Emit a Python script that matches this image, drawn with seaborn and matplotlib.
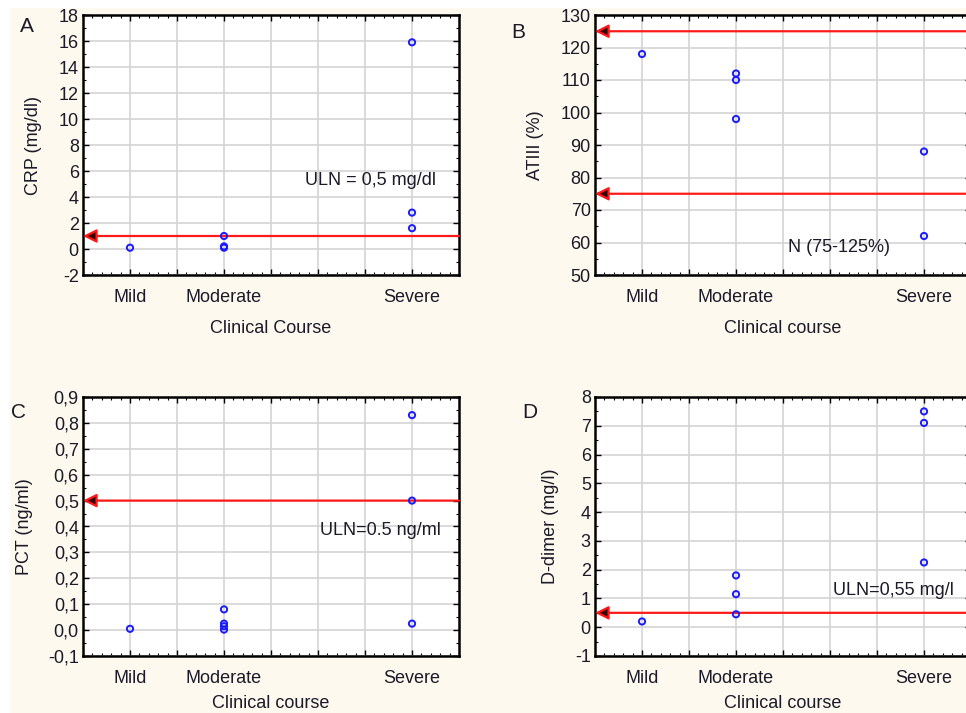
import numpy as np
import pandas as pd
import matplotlib
matplotlib.use('Agg')
import matplotlib.pyplot as plt
from matplotlib.ticker import MultipleLocator, FixedLocator
import seaborn as sns

# categories and their place on the x axis (Statistica style, 0..8)
courses = ['Mild', 'Moderate', 'Severe']
course_pos = {'Mild': 1, 'Moderate': 3, 'Severe': 7}

# A - CRP
crp_course = ['Mild', 'Moderate', 'Moderate', 'Moderate', 'Severe', 'Severe', 'Severe']
crp_value = [0.1, 1.0, 0.2, 0.1, 15.9, 2.8, 1.6]

# B - ATIII
at_course = ['Mild', 'Moderate', 'Moderate', 'Moderate', 'Severe', 'Severe']
at_value = [118, 112, 110, 98, 88, 62]

# C - PCT
pct_course = ['Mild', 'Moderate', 'Moderate', 'Moderate', 'Moderate', 'Severe', 'Severe', 'Severe']
pct_value = [0.005, 0.08, 0.025, 0.015, 0.002, 0.83, 0.5, 0.025]

# D - D-dimer
dd_course = ['Mild', 'Moderate', 'Moderate', 'Moderate', 'Severe', 'Severe', 'Severe']
dd_value = [0.2, 1.8, 1.15, 0.45, 7.5, 7.1, 2.25]

# reference lines (y values)
crp_uln = [1.0]
at_ref = [125, 75]
pct_uln = [0.5]
dd_uln = [0.5]

BG = '#fef9ee'
TXT = '#1a1a28'
FS = 13

sns.set_theme(style='white')
plt.rcParams['font.family'] = ['Liberation Sans', 'DejaVu Sans']

fig = plt.figure(figsize=(9.66, 7.13), dpi=100, facecolor=BG)
# thin white strips at the top and left edges of the scan
fig.patches.append(plt.Rectangle((0, 0.99), 1, 0.01, transform=fig.transFigure,
                                 color='white', zorder=-1))
fig.patches.append(plt.Rectangle((0, 0), 0.009, 1, transform=fig.transFigure,
                                 color='white', zorder=-1))

W, H = 966, 713


def make_ax(left, top, width, height):
    return fig.add_axes([left / W, 1 - (top + height) / H, width / W, height / H])


def draw_panel(ax, course, value, refs, ylim, ystep, ylabel, xlabel, fmt, note, note_xy,
               xpad=10):
    df = pd.DataFrame({'course': course, 'value': value})
    df['x'] = df['course'].map(course_pos)
    ax.set_facecolor('white')
    sns.scatterplot(data=df, x='x', y='value', ax=ax, marker='o', s=20,
                    facecolor='none', edgecolor='#1a1aff', linewidth=1.4, zorder=4)
    for r in refs:
        ax.annotate('', xy=(0, r), xytext=(8, r),
                    arrowprops=dict(arrowstyle='-|>', ec='#ff1a1a', fc='#3a0000',
                                    lw=1.6, mutation_scale=20, shrinkA=0, shrinkB=0),
                    zorder=3, annotation_clip=False)
    ax.set_xlim(0, 8)
    ax.set_ylim(*ylim)
    ax.xaxis.set_major_locator(FixedLocator(range(1, 8)))
    ax.set_xticklabels(['Mild', '', 'Moderate', '', '', '', 'Severe'])
    ax.xaxis.set_minor_locator(MultipleLocator(0.2))
    ax.yaxis.set_major_locator(MultipleLocator(ystep))
    ax.yaxis.set_minor_locator(MultipleLocator(ystep / 2))
    ax.yaxis.set_major_formatter(plt.FuncFormatter(fmt))
    ax.grid(True, which='major', color='#d4d4d4', lw=1.2, zorder=0)
    ax.set_axisbelow(True)
    ax.tick_params(which='both', direction='in', top=True, right=True,
                   bottom=True, left=True, colors='black')
    ax.tick_params(which='major', length=4, width=1, labelsize=FS, labelcolor=TXT, pad=3)
    ax.tick_params(axis='x', which='major', pad=10)
    ax.tick_params(which='minor', length=2.5, width=0.8)
    for s in ax.spines.values():
        s.set_color('black')
        s.set_linewidth(1.8)
    ax.set_ylabel(ylabel, fontsize=FS, color=TXT)
    ax.set_xlabel(xlabel, fontsize=FS, color=TXT, labelpad=xpad)
    ax.text(note_xy[0], note_xy[1], note, fontsize=FS, color=TXT, va='center', zorder=5)


def int_fmt(v, pos):
    return f'{v:.0f}'


def comma_fmt(v, pos):
    return f'{v:.1f}'.replace('.', ',')


axA = make_ax(83, 15, 376, 260)
draw_panel(axA, crp_course, crp_value, crp_uln, (-2, 18), 2, 'CRP (mg/dl)',
           'Clinical Course', int_fmt, 'ULN = 0,5 mg/dl', (4.72, 5.3))
axA.yaxis.set_label_coords(-0.109, 0.5)

axB = make_ax(595, 15, 376, 260)
draw_panel(axB, at_course, at_value, at_ref, (50, 130), 10, 'ATIII (%)',
           'Clinical course', int_fmt, 'N (75-125%)', (4.1, 58.6))
axB.yaxis.set_label_coords(-0.136, 0.5)

axC = make_ax(83, 397, 376, 259)
draw_panel(axC, pct_course, pct_value, pct_uln, (-0.1, 0.9), 0.1, 'PCT (ng/ml)',
           'Clinical course', comma_fmt, 'ULN=0.5 ng/ml', (5.04, 0.386), xpad=6)
axC.yaxis.set_label_coords(-0.133, 0.5)

axD = make_ax(595, 397, 376, 259)
draw_panel(axD, dd_course, dd_value, dd_uln, (-1, 8), 1, 'D-dimer (mg/l)',
           'Clinical course', int_fmt, 'ULN=0,55 mg/l', (5.06, 1.29), xpad=6)
axD.yaxis.set_label_coords(-0.096, 0.5)

for lab, (px, py) in zip('ABCD', [(27, 27), (518, 33), (18, 413), (530, 413)]):
    fig.text(px / W, 1 - py / H, lab, fontsize=15, color=TXT, ha='center', va='center')

fig.savefig('out.png', dpi=100, facecolor=BG)
